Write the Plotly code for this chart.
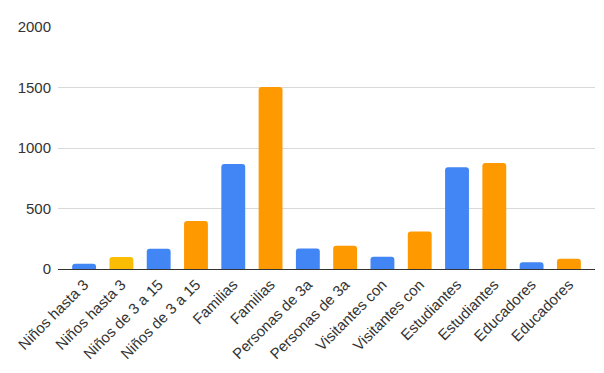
import plotly.graph_objects as go

categories = ["Niños hasta 3", "Niños hasta 3", "Niños de 3 a 15", "Niños de 3 a 15",
              "Familias", "Familias", "Personas de 3a", "Personas de 3a",
              "Visitantes con", "Visitantes con", "Estudiantes", "Estudiantes",
              "Educadores", "Educadores"]
values = [44, 100, 167, 397, 868, 1505, 170, 192, 101, 310, 841, 876, 55, 85]
colors = ["#4285f4", "#fbbc04", "#4285f4", "#ff9900", "#4285f4", "#ff9900", "#4285f4",
          "#ff9900", "#4285f4", "#ff9900", "#4285f4", "#ff9900", "#4285f4", "#ff9900"]
y_ticks = [0, 500, 1000, 1500, 2000]

x = list(range(len(categories)))

fig = go.Figure(go.Bar(x=x, y=values, marker=dict(color=colors, cornerradius=3, line=dict(width=0)),
                       width=0.64, hoverinfo="skip"))

# page body has an 8px default margin, so the figure is sized/offset accordingly
fig.update_layout(
    width=596, height=365,
    margin=dict(l=50, r=9, t=19, b=104),
    paper_bgcolor="white", plot_bgcolor="white",
    font=dict(family="Liberation Sans, Arial, sans-serif", size=15, color="#333333"),
    showlegend=False,
    xaxis=dict(tickmode="array", tickvals=x, ticktext=categories, tickangle=-45,
               range=[-0.7, len(categories) - 0.3], showgrid=False, showline=True,
               linecolor="#333333", linewidth=1, ticks="", automargin=False,
               ticklabeloverflow="allow",
               tickfont=dict(size=15, color="#333333")),
    yaxis=dict(range=[0, 2000], tickvals=y_ticks, showgrid=True, gridcolor="#d9d9d9",
               gridwidth=1, zeroline=False, showline=False, ticks="", ticklen=0,
               automargin=False, ticklabelstandoff=6, ticklabeloverflow="allow",
               tickfont=dict(size=15, color="#333333")),
)

fig.write_html("out.html")
